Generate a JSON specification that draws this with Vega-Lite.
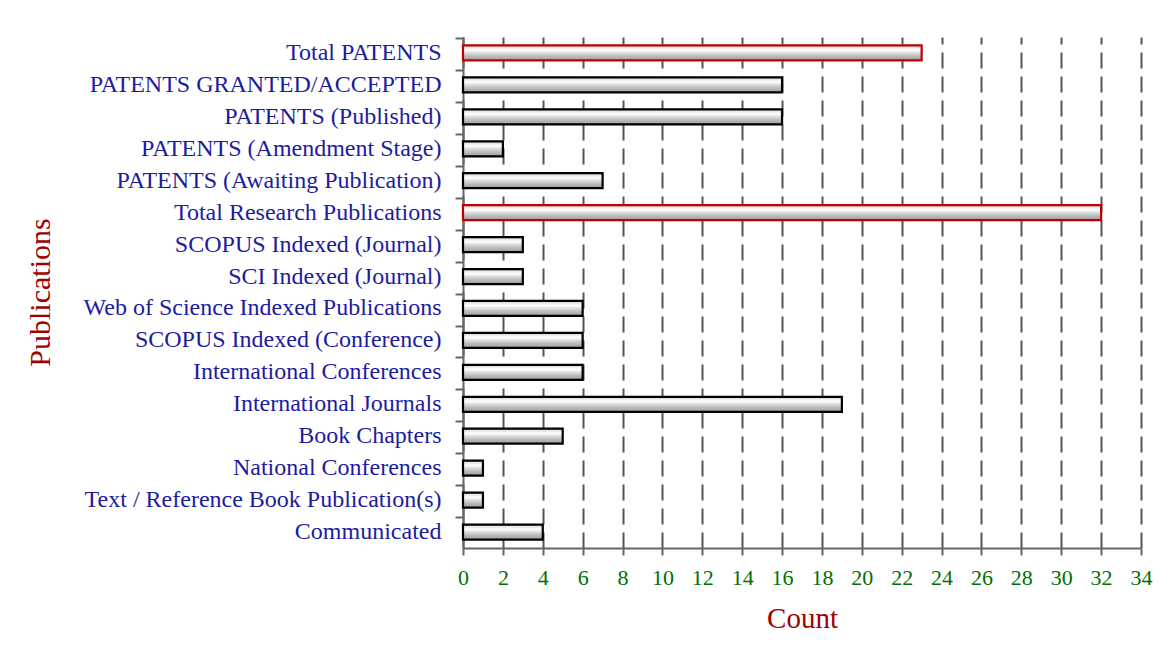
{
  "$schema": "https://vega.github.io/schema/vega-lite/v6.json",
  "width": 678,
  "height": 511,
  "autosize": {"type": "none"},
  "padding": {"left": 463, "top": 37, "right": 29, "bottom": 105},
  "background": "white",
  "config": {
    "view": {"stroke": null},
    "font": "Liberation Serif"
  },
  "data": {
    "values": [
      {"category": "Total PATENTS", "count": 23, "total": "yes"},
      {"category": "PATENTS GRANTED/ACCEPTED", "count": 16, "total": "no"},
      {"category": "PATENTS (Published)", "count": 16, "total": "no"},
      {"category": "PATENTS (Amendment Stage)", "count": 2, "total": "no"},
      {"category": "PATENTS (Awaiting Publication)", "count": 7, "total": "no"},
      {"category": "Total Research Publications", "count": 32, "total": "yes"},
      {"category": "SCOPUS Indexed (Journal)", "count": 3, "total": "no"},
      {"category": "SCI Indexed (Journal)", "count": 3, "total": "no"},
      {"category": "Web of Science Indexed Publications", "count": 6, "total": "no"},
      {"category": "SCOPUS Indexed (Conference)", "count": 6, "total": "no"},
      {"category": "International Conferences", "count": 6, "total": "no"},
      {"category": "International Journals", "count": 19, "total": "no"},
      {"category": "Book Chapters", "count": 5, "total": "no"},
      {"category": "National Conferences", "count": 1, "total": "no"},
      {"category": "Text / Reference Book Publication(s)", "count": 1, "total": "no"},
      {"category": "Communicated ", "count": 4, "total": "no"}
    ]
  },
  "mark": {
    "type": "bar",
    "size": 15,
    "strokeWidth": 2.2,
    "fill": {
      "x1": 0, "y1": 0, "x2": 0, "y2": 1,
      "gradient": "linear",
      "stops": [
        {"offset": 0, "color": "#d0d0d0"},
        {"offset": 0.3, "color": "#ffffff"},
        {"offset": 0.65, "color": "#c4c4c4"},
        {"offset": 1, "color": "#9a9a9a"}
      ]
    }
  },
  "encoding": {
    "y": {
      "field": "category",
      "type": "nominal",
      "sort": null,
      "title": "Publications",
      "axis": {
        "labelFont": "Liberation Serif",
        "labelFontSize": 24,
        "labelColor": "#1c1ca0",
        "labelPadding": 14,
        "labelLimit": 500,
        "bandPosition": 0,
        "tickSize": 8,
        "tickColor": "#666666",
        "tickWidth": 2,
        "domainColor": "#666666",
        "domainWidth": 2,
        "titleFont": "Liberation Serif",
        "titleFontSize": 30,
        "titleFontWeight": "normal",
        "titleColor": "#a00000",
        "titleAngle": -90,
        "titleAlign": "center",
        "titleBaseline": "bottom",
        "titleX": -408,
        "titleY": 255,
        "grid": false
      }
    },
    "x": {
      "field": "count",
      "type": "quantitative",
      "title": "Count",
      "scale": {"domain": [0, 34], "nice": false},
      "axis": {
        "values": [0, 2, 4, 6, 8, 10, 12, 14, 16, 18, 20, 22, 24, 26, 28, 30, 32, 34],
        "labelFont": "Liberation Serif",
        "labelFontSize": 22,
        "labelColor": "#007000",
        "labelPadding": 12,
        "labelFlush": false,
        "labelOverlap": false,
        "tickSize": 7,
        "tickColor": "#666666",
        "tickWidth": 2,
        "domainColor": "#666666",
        "domainWidth": 2,
        "grid": true,
        "gridColor": "#555555",
        "gridWidth": 2,
        "gridDash": [16, 8],
        "titleFont": "Liberation Serif",
        "titleFontSize": 29,
        "titleFontWeight": "normal",
        "titleColor": "#a00000",
        "titleAlign": "center",
        "titleBaseline": "alphabetic",
        "titleX": 339,
        "titleY": 79
      }
    },
    "stroke": {
      "field": "total",
      "type": "nominal",
      "scale": {"domain": ["yes", "no"], "range": ["#c00000", "#000000"]},
      "legend": null
    }
  }
}
